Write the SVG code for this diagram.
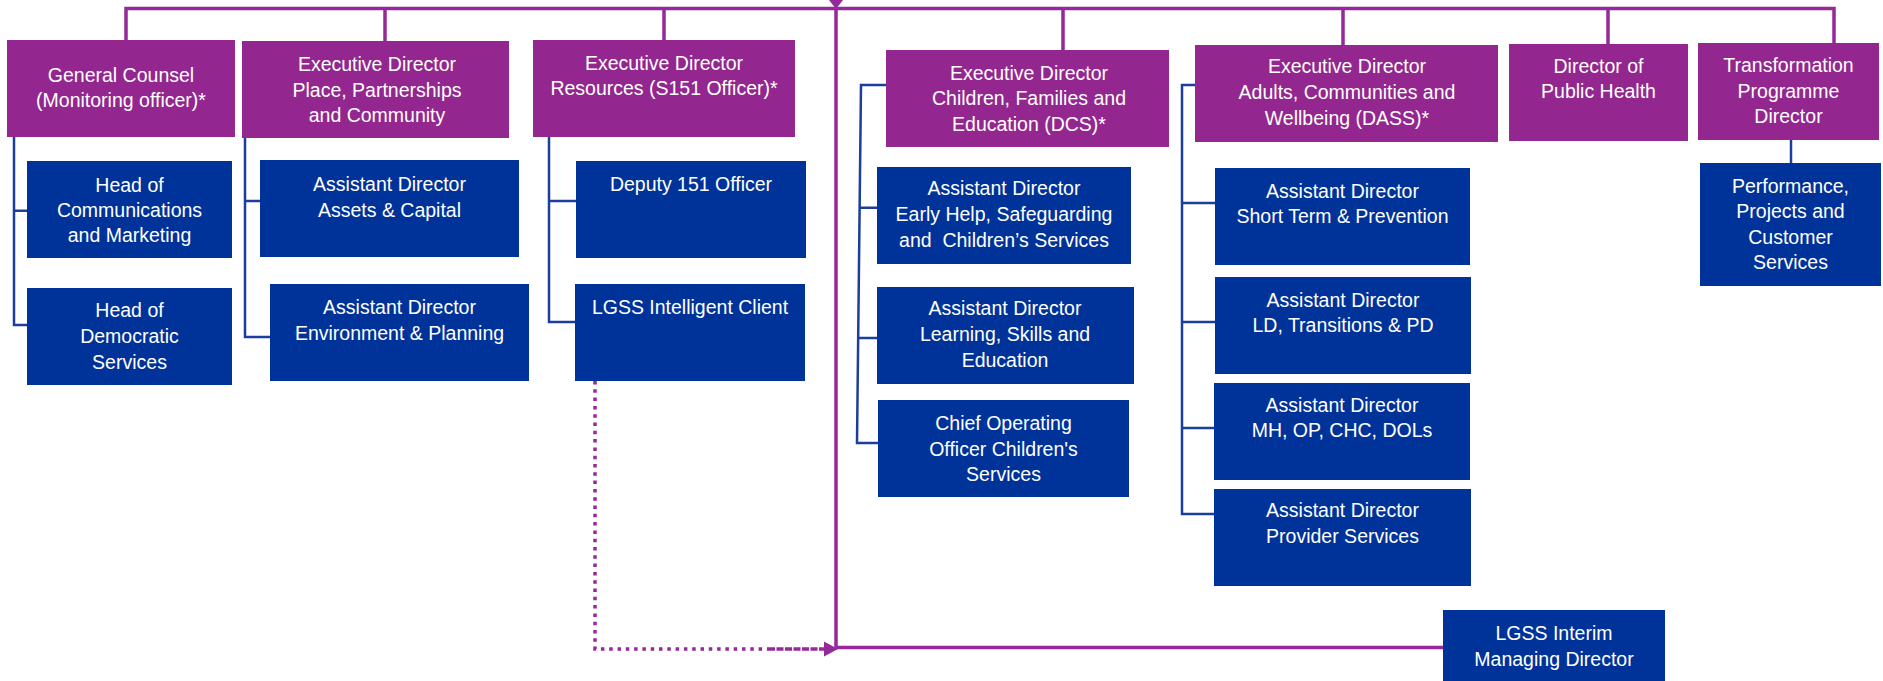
<svg xmlns="http://www.w3.org/2000/svg" width="1883" height="681" viewBox="0 0 1883 681">
<style>
.exec{fill:#93278F}
.sub{fill:#003399}
.t{font-family:"Liberation Sans",Arial,sans-serif;font-size:19.5px;fill:#ffffff;text-anchor:middle}
.mg{fill:none;stroke:#95299A;stroke-width:3.5}
.bl{fill:none;stroke:#1B3D9C;stroke-width:2.5}
.dot{fill:none;stroke:#95299A;stroke-width:3.5;stroke-dasharray:3.5 4.8}
</style>
<rect width="1883" height="681" fill="#ffffff"/>
<g id="connectors">
  <path class="mg" d="M126,40 V8.5 H1834 V43"/>
  <path class="mg" d="M385,8.5 V41 M664,8.5 V40 M1063,8.5 V50 M1343,8.5 V45 M1608,8.5 V44"/>
  <path class="mg" d="M836,8 V648 M836,647.5 H1443"/>
  <polygon points="829,0 843,0 836,9" fill="#95299A"/>
  <path class="dot" d="M595,381 V649 H768"/>
  <path fill="none" stroke="#95299A" stroke-width="3.5" stroke-dasharray="7 1.5" d="M768,649 H826"/>
  <polygon points="824,641.5 838,649 824,656.5" fill="#95299A"/>
  <path class="bl" d="M14,137 V325 H27 M14,210.7 H27"/>
  <path class="bl" d="M245,138 V337 H270 M245,201 H260"/>
  <path class="bl" d="M549,137 V322 H575 M549,201 H576"/>
  <path class="bl" d="M886,85 H861 L857,443 H878 M860,207.7 H877 M858,338 H877"/>
  <path class="bl" d="M1195,85 H1182 V514 H1214 M1182,203 H1215 M1182,322 H1215 M1182,428 H1214"/>
  <path class="bl" d="M1791,140 V163"/>
</g>
<g id="general-counsel"><rect class="exec" x="7" y="40" width="228" height="97"/><text class="t"><tspan x="121" y="81.7">General Counsel</tspan><tspan x="121" y="107">(Monitoring officer)*</tspan></text></g>
<g id="ed-place"><rect class="exec" x="242" y="41" width="267" height="97"/><text class="t"><tspan x="377" y="70.7">Executive Director</tspan><tspan x="377" y="96.7">Place, Partnerships</tspan><tspan x="377" y="122">and Community</tspan></text></g>
<g id="ed-resources"><rect class="exec" x="533" y="40" width="262" height="97"/><text class="t"><tspan x="664" y="70">Executive Director</tspan><tspan x="664" y="95">Resources (S151 Officer)*</tspan></text></g>
<g id="ed-children"><rect class="exec" x="886" y="50" width="283" height="97"/><text class="t"><tspan x="1029" y="80">Executive Director</tspan><tspan x="1029" y="105">Children, Families and</tspan><tspan x="1029" y="131">Education (DCS)*</tspan></text></g>
<g id="ed-adults"><rect class="exec" x="1195" y="45" width="303" height="97"/><text class="t"><tspan x="1347" y="73">Executive Director</tspan><tspan x="1347" y="99">Adults, Communities and</tspan><tspan x="1347" y="125">Wellbeing (DASS)*</tspan></text></g>
<g id="public-health"><rect class="exec" x="1509" y="44" width="179" height="97"/><text class="t"><tspan x="1598.5" y="73">Director of</tspan><tspan x="1598.5" y="98">Public Health</tspan></text></g>
<g id="transformation"><rect class="exec" x="1698" y="43" width="181" height="97"/><text class="t"><tspan x="1788.5" y="72">Transformation</tspan><tspan x="1788.5" y="98">Programme</tspan><tspan x="1788.5" y="123">Director</tspan></text></g>
<g id="head-comms"><rect class="sub" x="27" y="161" width="205" height="97"/><text class="t"><tspan x="129.5" y="191.7">Head of</tspan><tspan x="129.5" y="216.7">Communications</tspan><tspan x="129.5" y="242">and Marketing</tspan></text></g>
<g id="head-democratic"><rect class="sub" x="27" y="288" width="205" height="97"/><text class="t"><tspan x="129.5" y="317">Head of</tspan><tspan x="129.5" y="343">Democratic</tspan><tspan x="129.5" y="369">Services</tspan></text></g>
<g id="ad-assets"><rect class="sub" x="260" y="160" width="259" height="97"/><text class="t"><tspan x="389.5" y="190.7">Assistant Director</tspan><tspan x="389.5" y="216.7">Assets &amp; Capital</tspan></text></g>
<g id="ad-environment"><rect class="sub" x="270" y="284" width="259" height="97"/><text class="t"><tspan x="399.5" y="314">Assistant Director</tspan><tspan x="399.5" y="340">Environment &amp; Planning</tspan></text></g>
<g id="deputy-151"><rect class="sub" x="576" y="161" width="230" height="97"/><text class="t"><tspan x="691" y="190.7">Deputy 151 Officer</tspan></text></g>
<g id="lgss-client"><rect class="sub" x="575" y="284" width="230" height="97"/><text class="t"><tspan x="690" y="314">LGSS Intelligent Client</tspan></text></g>
<g id="ad-early-help"><rect class="sub" x="877" y="167" width="254" height="97"/><text class="t" xml:space="preserve"><tspan x="1004" y="195">Assistant Director</tspan><tspan x="1004" y="221">Early Help, Safeguarding</tspan><tspan x="1004" y="247">and  Children’s Services</tspan></text></g>
<g id="ad-learning"><rect class="sub" x="877" y="287" width="257" height="97"/><text class="t"><tspan x="1005" y="315">Assistant Director</tspan><tspan x="1005" y="341">Learning, Skills and</tspan><tspan x="1005" y="367">Education</tspan></text></g>
<g id="coo-children"><rect class="sub" x="878" y="400" width="251" height="97"/><text class="t"><tspan x="1003.5" y="430">Chief Operating</tspan><tspan x="1003.5" y="456">Officer Children's</tspan><tspan x="1003.5" y="481">Services</tspan></text></g>
<g id="ad-short-term"><rect class="sub" x="1215" y="168" width="255" height="97"/><text class="t"><tspan x="1342.5" y="198">Assistant Director</tspan><tspan x="1342.5" y="223">Short Term &amp; Prevention</tspan></text></g>
<g id="ad-ld"><rect class="sub" x="1215" y="277" width="256" height="97"/><text class="t"><tspan x="1343" y="307">Assistant Director</tspan><tspan x="1343" y="332">LD, Transitions &amp; PD</tspan></text></g>
<g id="ad-mh"><rect class="sub" x="1214" y="383" width="256" height="97"/><text class="t"><tspan x="1342" y="412">Assistant Director</tspan><tspan x="1342" y="437">MH, OP, CHC, DOLs</tspan></text></g>
<g id="ad-provider"><rect class="sub" x="1214" y="489" width="257" height="97"/><text class="t"><tspan x="1342.5" y="517">Assistant Director</tspan><tspan x="1342.5" y="543">Provider Services</tspan></text></g>
<g id="performance"><rect class="sub" x="1700" y="163" width="181" height="123"/><text class="t"><tspan x="1790.5" y="193">Performance,</tspan><tspan x="1790.5" y="218">Projects and</tspan><tspan x="1790.5" y="244">Customer</tspan><tspan x="1790.5" y="269">Services</tspan></text></g>
<g id="lgss-interim"><rect class="sub" x="1443" y="610" width="222" height="71"/><text class="t"><tspan x="1554" y="640">LGSS Interim</tspan><tspan x="1554" y="666">Managing Director</tspan></text></g>
</svg>
